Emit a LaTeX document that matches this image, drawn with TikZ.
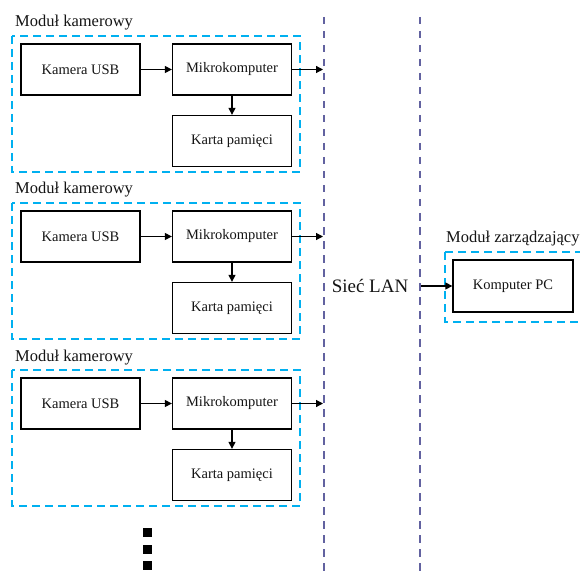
\documentclass[tikz,border=0pt]{standalone}
\usepackage{fontspec}
\setmainfont{Liberation Serif}
\usepackage{xcolor}
\usepackage{tikz}
\usetikzlibrary{positioning, arrows.meta, calc}
\definecolor{modBlue}{RGB}{0,176,240}
\definecolor{lanLine}{RGB}{98,98,160}
\definecolor{textDark}{RGB}{20,20,20}

\begin{document}
\begin{tikzpicture}[
    x=1pt, y=-1pt,
    every node/.style={text=textDark},
    blok/.style={draw=black, line width=1.3pt, minimum width=119pt,
        minimum height=51pt, inner sep=0pt, font=\fontsize{14.5}{17}\selectfont},
    modul/.style={draw=modBlue, line width=1.9pt, dash pattern=on 8pt off 5pt},
    siec/.style={draw=lanLine, line width=2pt, dash pattern=on 7.5pt off 6.5pt},
    podpis/.style={anchor=base west, inner sep=0pt, font=\fontsize{16.5}{19}\selectfont},
    strzalka/.style={line width=1.2pt, -{Triangle[length=7pt, width=7pt]}},
]
% Canvas: x in [0, 580], y in [0, 577] (pixels, y down)
\clip (0,0) rectangle (580,577);

% --- LAN: two dashed verticals ---
\draw[siec] (324,17) -- (324,577);
\draw[siec] (420,17) -- (420,577);

% --- Camera modules, stacked every 167 ---
\foreach \i/\dy in {1/0, 2/167, 3/334} {
    \draw[modul] (12,36+\dy) rectangle (300,172+\dy);
    \node[podpis] (mod\i) at (15,27+\dy) {Moduł kamerowy};

    \node[blok] (kam\i)   at (80.5,69.5+\dy) {Kamera USB};
    \node[blok] (mik\i)   at (232,69.5+\dy)  {Mikrokomputer};
    \node[blok] (karta\i) at (232,141+\dy)   {Karta pamięci};

    \coordinate (lan\i) at (323,69.5+\dy);
    \draw[strzalka] (kam\i) -- (mik\i);
    \draw[strzalka] (mik\i) -- (karta\i);
    \draw[strzalka] (mik\i.east) -- (lan\i);
}

% more modules ...
\foreach \y in {532, 549, 565} {
    \fill[black] (142.5,\y-4.5) rectangle (151.5,\y+4.5);
}

% --- Network label and management module ---
\node[font=\fontsize{19}{22}\selectfont] (lan) at (370,286) {Sieć LAN};

\draw[modul] (445,252) rectangle (600,322);
\node[podpis] (zarz) at (446,242) {Moduł zarządzający};
\node[blok, minimum width=120pt, minimum height=52pt] (pc) at (513,286) {Komputer PC};

\coordinate (lanR) at (421,286);
\draw[strzalka] (lanR) -- (pc.west);

\end{tikzpicture}
\end{document}
